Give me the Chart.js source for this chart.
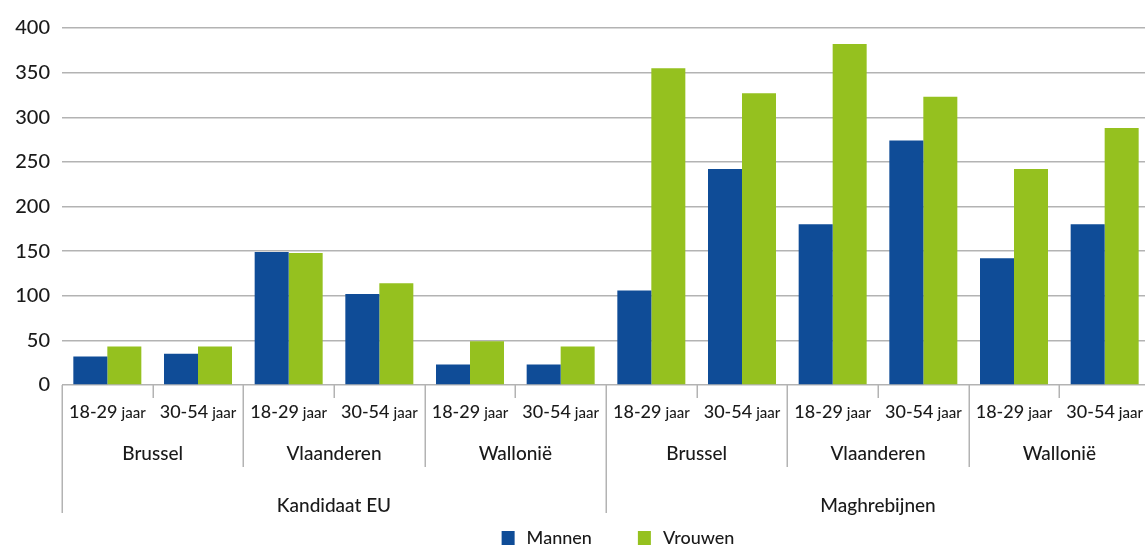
<!DOCTYPE html>
<html><head><meta charset="utf-8">
<script src="https://cdn.jsdelivr.net/npm/chart.js@4"></script>
<style>html,body{margin:0;padding:0;overflow:hidden;background:#fff;} #wrap{width:1150px;height:546px;}</style>
</head><body><div id="wrap"><canvas id="c" width="1150" height="546"></canvas></div>
<script>
const origins = ['Kandidaat EU', 'Maghrebijnen'];
const regions = ['Brussel', 'Vlaanderen', 'Wallonië'];
const ageGroups = ['18-29', '30-54'];
const ageUnit = 'jaar';
const seriesNames = ['Mannen', 'Vrouwen'];
const mannen  = [32, 35, 149, 102, 23, 23, 106, 242, 180, 274, 142, 180];
const vrouwen = [43, 43, 148, 114, 49, 43, 355, 327, 382, 323, 242, 288];
const yMin = 0, yMax = 400, yStep = 50;

const colors = ['#0f4c97', '#95c11f'];
const FONT = 'Lato, "Open Sans", sans-serif';
const TXT = '#1a1a1a';

const categories = [];
origins.forEach(o => regions.forEach(r => ageGroups.forEach(a => categories.push([o, r, a + ' ' + ageUnit]))));

const axisPlugin = {
  id: 'hierAxis',
  afterDraw(chart) {
    const ctx = chart.ctx;
    const xs = chart.scales.x;
    const n = categories.length;
    const cw = (xs.right - xs.left) / n;
    const base = chart.chartArea.bottom;
    const perOrigin = regions.length * ageGroups.length;
    ctx.save();
    ctx.strokeStyle = '#b3b3b3';
    ctx.lineWidth = 1.5;
    for (let i = 0; i <= n; i++) {
      const x = Math.round(xs.left + i * cw) + 0.25;
      let len = 13;
      if (i % perOrigin === 0) len = 128;
      else if (i % ageGroups.length === 0) len = 82;
      ctx.beginPath(); ctx.moveTo(x, base); ctx.lineTo(x, base + len); ctx.stroke();
    }
    ctx.fillStyle = TXT;
    // age labels
    ctx.textBaseline = 'alphabetic';
    for (let i = 0; i < n; i++) {
      const cx = xs.getPixelForValue(i);
      const a = ageGroups[i % ageGroups.length];
      ctx.font = '500 18px ' + FONT;
      const w1 = ctx.measureText(a).width;
      ctx.font = '500 15px ' + FONT;
      const w2 = ctx.measureText(ageUnit).width;
      const gap = 4;
      const start = cx - (w1 + gap + w2) / 2;
      ctx.textAlign = 'left';
      ctx.font = '500 18px ' + FONT;
      ctx.fillText(a, start, base + 33);
      ctx.font = '500 15px ' + FONT;
      ctx.fillText(ageUnit, start + w1 + gap, base + 33);
    }
    ctx.textBaseline = 'middle';
    // region labels
    ctx.textAlign = 'center';
    ctx.font = '500 19px ' + FONT;
    for (let i = 0; i < n; i += ageGroups.length) {
      const cx = (xs.getPixelForValue(i) + xs.getPixelForValue(i + ageGroups.length - 1)) / 2;
      ctx.fillText(categories[i][1], cx, base + 69);
    }
    // origin labels
    for (let i = 0; i < n; i += perOrigin) {
      const cx = (xs.getPixelForValue(i) + xs.getPixelForValue(i + perOrigin - 1)) / 2;
      ctx.fillText(categories[i][0], cx, base + 121);
    }
    // legend
    ctx.font = '500 18px ' + FONT;
    ctx.textAlign = 'left';
    const ly = 538;
    const sq = 13, sgap = 12, igap = 46;
    const items = chart.data.datasets.map(d => ({label: d.label, color: d.backgroundColor, w: ctx.measureText(d.label).width}));
    const total = items.reduce((s, it) => s + sq + sgap + it.w, 0) + igap * (items.length - 1);
    let lx = (xs.left + xs.right) / 2 + 12 - total / 2;
    items.forEach(it => {
      ctx.fillStyle = it.color;
      ctx.fillRect(lx, ly - 7, sq, sq + 1);
      ctx.fillStyle = TXT;
      ctx.fillText(it.label, lx + sq + sgap, ly);
      lx += sq + sgap + it.w + igap;
    });
    ctx.restore();
  }
};

new Chart(document.getElementById('c'), {
  type: 'bar',
  data: {
    labels: categories.map(c => c.join(' – ')),
    datasets: [
      {label: seriesNames[0], data: mannen, backgroundColor: colors[0], borderWidth: 0},
      {label: seriesNames[1], data: vrouwen, backgroundColor: colors[1], borderWidth: 0}
    ]
  },
  options: {
    responsive: false,
    animation: false,
    layout: {padding: {top: 28, right: 0, left: 0, bottom: 0}},
    datasets: {bar: {categoryPercentage: 0.75, barPercentage: 1.0}},
    plugins: {legend: {display: false}, tooltip: {enabled: false}},
    scales: {
      x: {
        grid: {display: false},
        border: {display: false},
        ticks: {display: false},
        afterFit(s) { s.height = 161; }
      },
      y: {
        min: yMin, max: yMax,
        ticks: {stepSize: yStep, color: TXT, font: {family: FONT, size: 20, weight: '500'}, padding: 12},
        grid: {color: '#b3b3b3', lineWidth: 1.5, drawTicks: false},
        border: {display: false},
        afterFit(s) { s.width = 62; }
      }
    }
  },
  plugins: [axisPlugin]
});
</script>
</body></html>
